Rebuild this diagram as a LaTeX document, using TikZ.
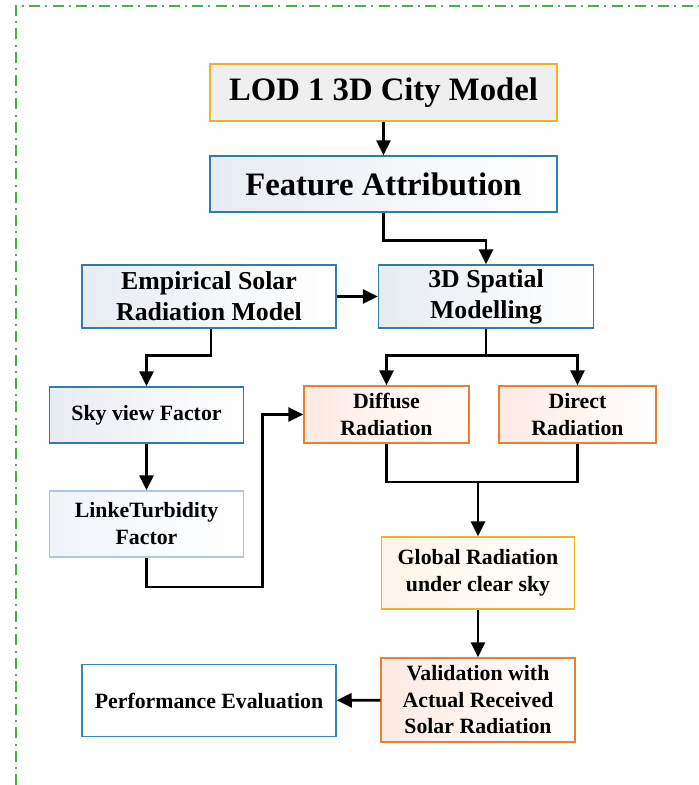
\documentclass[tikz,border=0pt]{standalone}
\usepackage{fontspec}
\setmainfont{Liberation Serif}
\usetikzlibrary{arrows.meta,calc}

\definecolor{frameGreen}{HTML}{4DAE4D}
\definecolor{gold}{HTML}{F2B320}
\definecolor{orangeLine}{HTML}{ED7D31}
\definecolor{blueLine}{HTML}{2F7DA8}
\definecolor{perfBlue}{HTML}{3388BE}
\definecolor{paleBlueLine}{HTML}{AFC7DF}
\definecolor{greyFill}{HTML}{EFEFEF}
\definecolor{blueTint}{HTML}{E7ECF2}
\definecolor{paleTint}{HTML}{F0F4F9}
\definecolor{pinkTint}{HTML}{FDEAE3}
\definecolor{creamTint}{HTML}{FEF5E8}

\newcommand\fzbig{\fontsize{32.7}{38}\selectfont}
\newcommand\fzmid{\fontsize{25.8}{31}\selectfont}
\newcommand\fzsmall{\fontsize{21.8}{27}\selectfont}

\tikzset{
  box/.style={rectangle, inner sep=0pt, line width=1.5pt, align=center,
              font=\bfseries},
  bluebox/.style={box, draw=blueLine, left color=blueTint, right color=white},
  pinkbox/.style={box, draw=orangeLine, left color=pinkTint, right color=white},
  link/.style={line width=2.8pt, black, line join=miter},
  arr/.style={link, -{Triangle[length=15pt,width=14pt]}},
}

\begin{document}
\begin{tikzpicture}[x=1pt, y=-1pt]
  \useasboundingbox (0,0) rectangle (699,785);

  % dash-dot frame (top and left edges)
  \draw[frameGreen, line width=1.5pt, dash pattern=on 11pt off 5pt on 2pt off 5.3pt]
    (16,785) -- (16,6) -- (699,6);

  % boxes
  \node[box, draw=gold, fill=greyFill, minimum width=347pt, minimum height=57pt, font=\bfseries\fzbig]
    (lod) at (383.5,92.5) {LOD 1 3D City Model};
  \node[bluebox, minimum width=347pt, minimum height=56pt, font=\bfseries\fzbig]
    (fa) at (383.5,184) {Feature Attribution};
  \node[bluebox, minimum width=254pt, minimum height=63pt, font=\bfseries\fzmid]
    (emp) at (209,296.5) {Empirical Solar\\Radiation Model};
  \node[bluebox, minimum width=215pt, minimum height=63pt, font=\bfseries\fzmid]
    (spat) at (486,296.5) {3D Spatial\\Modelling};
  \node[pinkbox, minimum width=165pt, minimum height=57pt, font=\bfseries\fzsmall]
    (diff) at (386.5,414.5) {Diffuse\\Radiation};
  \node[pinkbox, minimum width=157pt, minimum height=57pt, font=\bfseries\fzsmall]
    (dir) at (577.5,414.5) {Direct\\Radiation};
  \node[bluebox, minimum width=194pt, minimum height=56pt, font=\bfseries\fzsmall]
    (sky) at (146.5,415) {Sky view Factor};
  \node[box, draw=paleBlueLine, left color=paleTint, right color=white,
        minimum width=194pt, minimum height=66pt, font=\bfseries\fzsmall]
    (linke) at (146.5,524) {LinkeTurbidity\\Factor};
  \node[box, draw=gold, left color=creamTint, right color=white,
        minimum width=193pt, minimum height=72pt, font=\bfseries\fzsmall]
    (glob) at (478,573) {Global Radiation\\under clear sky};
  \node[pinkbox, minimum width=194pt, minimum height=84pt, font=\bfseries\fzsmall,
        execute at begin node={\setlength{\baselineskip}{26.5pt}}]
    (val) at (478,700) {Validation with\\Actual Received\\Solar Radiation};
  \node[box, draw=perfBlue, fill=white, minimum width=254pt, minimum height=72pt,
        font=\bfseries\fzsmall]
    (perf) at (209,700.5) {Performance Evaluation};

  % connectors
  \draw[arr] (lod) -- (fa);
  \draw[arr] (fa.south) -- ++(0,28) -| (spat.north);
  \draw[arr] (emp.east) -- (spat.west);

  \draw[link] (spat.south) -- ++(0,27) coordinate (sj);
  \draw[arr] (sj) -| (diff.north);
  \draw[arr] (sj) -| (dir.north);

  \draw[arr] ([xshift=2pt]emp.south) -- ++(0,27) -| (sky.north);
  \draw[arr] (sky) -- (linke);

  \coordinate (lk) at (262.5,587);
  \draw[arr] (linke.south) |- (lk) |- (diff.west);

  \coordinate (gj) at (478,482);
  \draw[link] (diff.south) |- (gj);
  \draw[link] (dir.south) |- (gj);
  \draw[arr] (gj) -- (glob.north);

  \draw[arr] (glob) -- (val);
  \draw[arr] (val) -- (perf);
\end{tikzpicture}
\end{document}
